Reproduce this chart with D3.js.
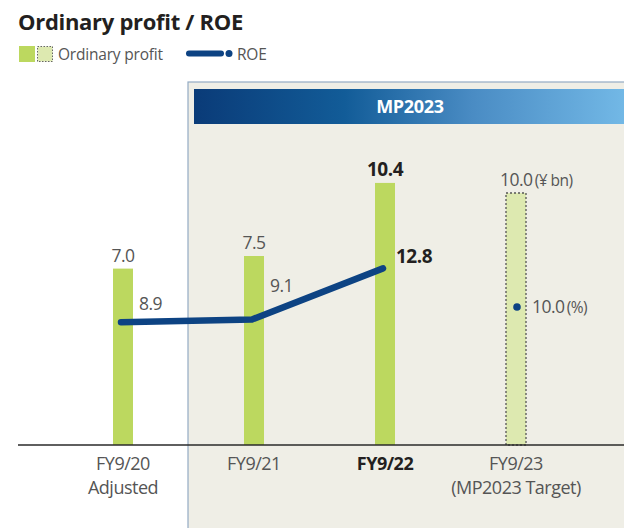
<!DOCTYPE html>
<html lang="en">
<head>
<meta charset="utf-8">
<title>Ordinary profit / ROE</title>
<script src="https://d3js.org/d3.v7.min.js"></script>
<style>
  body { margin: 0; background: #fff; }
  svg { display: block; font-family: "Open Sans", "Noto Sans", sans-serif; }
</style>
</head>
<body>
<svg width="624" height="528"></svg>
<script>
// data
var years = ["FY9/20", "FY9/21", "FY9/22", "FY9/23"];
var subLabels = ["Adjusted", "", "", "(MP2023 Target)"];
var profit = [7.0, 7.5, 10.4, 10.0];     // ¥ bn
var roe = [8.9, 9.1, 12.8, 10.0];        // %
var isTarget = [false, false, false, true];
var isBold = [false, false, true, false];

// label nudges for the ROE values (style only)
var roeLabelDy = [-12, -27, -5, 6];

var svg = d3.select("svg");
var baseY = 445;

var x = d3.scalePoint()
    .domain(years)
    .range([123, 516]);

var yBar = d3.scaleLinear().domain([0, 10]).range([baseY, baseY - 252]);
var yRoe = d3.scaleLinear().domain([0, 10]).range([baseY, baseY - 138]);

// gradient for header
var defs = svg.append("defs");
var grad = defs.append("linearGradient").attr("id", "hdr");
grad.append("stop").attr("offset", "0%").attr("stop-color", "#0a3b78");
grad.append("stop").attr("offset", "35%").attr("stop-color", "#125c98");
grad.append("stop").attr("offset", "65%").attr("stop-color", "#4a8cc4");
grad.append("stop").attr("offset", "100%").attr("stop-color", "#72b8e6");

// MP2023 panel
svg.append("rect")
    .attr("x", 188).attr("y", 82).attr("width", 440).attr("height", 450)
    .attr("fill", "#efeee6")
    .attr("stroke", "#93abc4").attr("stroke-width", 1.2);
svg.append("rect")
    .attr("x", 194).attr("y", 89).attr("width", 430).attr("height", 35)
    .attr("fill", "url(#hdr)");
svg.append("text")
    .attr("x", 410).attr("y", 113)
    .attr("text-anchor", "middle")
    .attr("fill", "#fff").attr("font-weight", 700).attr("font-size", 18)
    .attr("letter-spacing", -0.3)
    .text("MP2023");

// title + legend
svg.append("text")
    .attr("x", 18).attr("y", 30)
    .attr("font-size", 22).attr("font-weight", 700).attr("fill", "#231f20")
    .attr("letter-spacing", -0.3)
    .text("Ordinary profit / ROE");

svg.append("rect").attr("x", 19).attr("y", 46).attr("width", 16).attr("height", 16).attr("fill", "#bcd85f");
svg.append("rect").attr("x", 37.5).attr("y", 46.5).attr("width", 15).attr("height", 15)
    .attr("fill", "#dde9b0").attr("stroke", "#666").attr("stroke-dasharray", "1.5,1.5");
svg.append("text").attr("x", 58).attr("y", 60)
    .attr("font-size", 15.5).attr("fill", "#555").attr("letter-spacing", -0.2).text("Ordinary profit");

svg.append("line").attr("x1", 189).attr("x2", 221).attr("y1", 53.5).attr("y2", 53.5)
    .attr("stroke", "#0d4383").attr("stroke-width", 6).attr("stroke-linecap", "round");
svg.append("circle").attr("cx", 229).attr("cy", 53.5).attr("r", 3.5).attr("fill", "#0d4383");
svg.append("text").attr("x", 237).attr("y", 60)
    .attr("font-size", 15.5).attr("fill", "#555").attr("letter-spacing", -0.2).text("ROE");

// bars
var bw = 20;
svg.selectAll("rect.bar")
    .data(years)
    .enter().append("rect")
    .attr("class", "bar")
    .attr("x", function(d) { return x(d) - bw / 2; })
    .attr("y", function(d, i) { return yBar(profit[i]); })
    .attr("width", bw)
    .attr("height", function(d, i) { return baseY - yBar(profit[i]); })
    .attr("fill", function(d, i) { return isTarget[i] ? "#dde9b0" : "#bcd85f"; })
    .attr("stroke", function(d, i) { return isTarget[i] ? "#555" : "none"; })
    .attr("stroke-width", 1.3)
    .attr("stroke-dasharray", "2,2");

// baseline
svg.append("line")
    .attr("x1", 18).attr("x2", 624).attr("y1", baseY).attr("y2", baseY)
    .attr("stroke", "#2a2a2a").attr("stroke-width", 1.5);

// bar value labels
var pv = svg.selectAll("text.pv")
    .data(years)
    .enter().append("text")
    .attr("class", "pv")
    .attr("x", function(d) { return x(d); })
    .attr("y", function(d, i) { return yBar(profit[i]) - 7; })
    .attr("text-anchor", "middle")
    .attr("font-size", function(d, i) { return isBold[i] ? 19 : 17.5; })
    .attr("font-weight", function(d, i) { return isBold[i] ? 700 : 400; })
    .attr("fill", function(d, i) { return isBold[i] ? "#231f20" : "#555"; })
    .attr("letter-spacing", -0.5)
    .text(function(d, i) { return profit[i].toFixed(1); });

// target label: number centred on bar, unit trailing
pv.filter(function(d, i) { return isTarget[i]; })
    .attr("text-anchor", "start")
    .attr("x", function(d) { return x(d) - 16; })
    .append("tspan").attr("font-size", 15.5).attr("dx", 2).text("(¥ bn)");

// ROE line (actual years)
var actual = years.filter(function(d, i) { return !isTarget[i]; });
var line = d3.line()
    .x(function(d) { return x(d) - 2; })
    .y(function(d) { return yRoe(roe[years.indexOf(d)]); });

svg.append("path")
    .datum(actual)
    .attr("d", line)
    .attr("fill", "none")
    .attr("stroke", "#0d4383")
    .attr("stroke-width", 6.5)
    .attr("stroke-linecap", "round")
    .attr("stroke-linejoin", "round");

// target ROE dot
years.forEach(function(d, i) {
  if (!isTarget[i]) return;
  svg.append("circle")
      .attr("cx", x(d) + 1).attr("cy", yRoe(roe[i]))
      .attr("r", 3.8).attr("fill", "#0d4383");
});

// ROE value labels
svg.selectAll("text.rv")
    .data(years)
    .enter().append("text")
    .attr("class", "rv")
    .attr("x", function(d, i) { return x(d) + (isTarget[i] ? 16 : (isBold[i] ? 11 : 16)); })
    .attr("y", function(d, i) { return yRoe(roe[i]) + roeLabelDy[i]; })
    .attr("font-size", function(d, i) { return isBold[i] ? 19 : 17.5; })
    .attr("font-weight", function(d, i) { return isBold[i] ? 700 : 400; })
    .attr("fill", function(d, i) { return isBold[i] ? "#231f20" : "#555"; })
    .attr("letter-spacing", -0.5)
    .text(function(d, i) { return roe[i].toFixed(1); })
    .filter(function(d, i) { return isTarget[i]; })
    .append("tspan").attr("font-size", 15.5).attr("dx", 2).text("(%)");

// x labels
var xl = svg.selectAll("text.xl")
    .data(years)
    .enter().append("text")
    .attr("class", "xl")
    .attr("x", function(d) { return x(d); })
    .attr("y", 470)
    .attr("text-anchor", "middle")
    .attr("font-size", 18)
    .attr("font-weight", function(d, i) { return isBold[i] ? 700 : 400; })
    .attr("fill", function(d, i) { return isBold[i] ? "#231f20" : "#555"; })
    .attr("letter-spacing", -0.5);
xl.append("tspan").text(function(d) { return d; });
xl.append("tspan")
    .attr("x", function(d) { return x(d); })
    .attr("dy", 24)
    .text(function(d, i) { return subLabels[i]; });
</script>
</body>
</html>
